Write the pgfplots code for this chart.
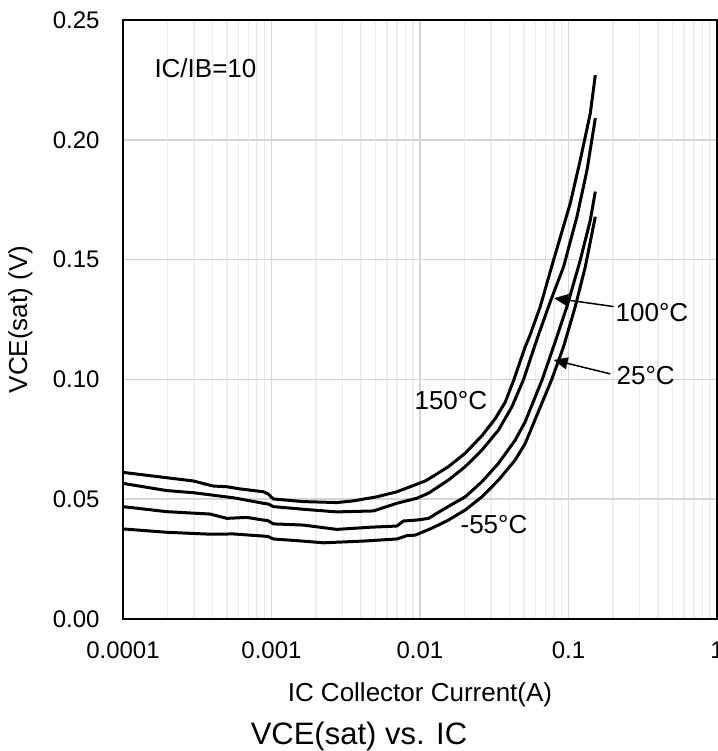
\documentclass[border=0pt]{standalone}
\usepackage{fontspec}
\setmainfont{Liberation Sans}
\usepackage{pgfplots}
\pgfplotsset{compat=1.18}
\usetikzlibrary{arrows.meta}
\begin{document}
\begin{tikzpicture}[x=1pt,y=1pt]
\begin{axis}[
  at={(0pt,0pt)}, anchor=south west,
  scale only axis, width=297pt, height=299.5pt,
  xmode=log, xmin=1e-4, xmax=1, ymin=0, ymax=0.25,
  xtick={1e-4,1e-3,1e-2,1e-1,1},
  xticklabels={0.0001,0.001,0.01,0.1,1},
  ytick={0,0.05,0.1,0.15,0.2,0.25},
  yticklabels={0.00,0.05,0.10,0.15,0.20,0.25},
  major tick length=0pt, minor tick length=0pt,
  xmajorgrids=true, xminorgrids=true, ymajorgrids=true,
  major grid style={draw=black!16, line width=0.75pt},
  minor grid style={draw=black!7, line width=0.75pt},
  axis line style={line width=0.8pt},
  tick label style={font=\fontsize{12}{14}\selectfont},
  xticklabel style={anchor=north, inner sep=0pt, yshift=-11.3pt},
  yticklabel style={anchor=east, inner sep=0pt, xshift=-11.5pt},
  xlabel={IC Collector Current(A)},
  xlabel style={at={(axis description cs:0.5,-0.1063)}, anchor=north, inner sep=0pt, font=\fontsize{13}{15}\selectfont},
  ylabel={VCE(sat) (V)},
  ylabel style={at={(axis description cs:-0.1936,0.5)}, anchor=north, inner sep=0pt, font=\fontsize{13}{15}\selectfont},
  every axis title shift=0pt,
  title={VCE(sat) vs. IC},
  title style={at={(axis description cs:0.3973,-0.1713)}, anchor=north, inner sep=0pt, font=\fontsize{15.5}{18}\selectfont},
  cycle list={black,line width=1.5pt,line join=round\\},
]
% 150 C
\addplot coordinates {
(1e-4,0.0612) (2.98e-4,0.0576) (4.04e-4,0.0555) (5.0e-4,0.0552) (6.14e-4,0.0543)
(8.82e-4,0.0531) (9.49e-4,0.0522) (1.03e-3,0.0501) (1.64e-3,0.0490) (2.754e-3,0.0486)
(3.565e-3,0.0493) (5.12e-3,0.0510) (6.99e-3,0.0531) (8.59e-3,0.0552) (0.01084,0.0576)
(0.01266,0.0601) (0.01556,0.0636) (0.02017,0.0692) (0.02613,0.0765) (0.03211,0.0836)
(0.0375,0.0905) (0.04267,0.0995) (0.05116,0.1137) (0.05528,0.1187) (0.06457,0.1304)
(0.07935,0.1498) (0.1028,0.1735) (0.1201,0.1916) (0.1403,0.2111) (0.1516,0.2270)
};
% 100 C
\addplot coordinates {
(1e-4,0.0566) (1.97e-4,0.0536) (2.98e-4,0.0527) (5.54e-4,0.0506) (8.82e-4,0.0483)
(9.5e-4,0.0480) (1.03e-3,0.0469) (1.64e-3,0.0458) (2.754e-3,0.0447) (4.86e-3,0.0451)
(6.99e-3,0.0483) (9.53e-3,0.0504) (0.01141,0.0525) (0.01556,0.0580) (0.02017,0.0636)
(0.02613,0.0705) (0.03381,0.0789) (0.04163,0.0886) (0.04983,0.1000) (0.06287,0.1187)
(0.0760,0.1330) (0.0927,0.1470) (0.1141,0.1680) (0.1333,0.1874) (0.1516,0.2090)
};
% 25 C
\addplot coordinates {
(1e-4,0.0469) (1.97e-4,0.0448) (3.86e-4,0.0438) (5.0e-4,0.0420) (6.82e-4,0.0424)
(8.82e-4,0.0413) (9.5e-4,0.0410) (1.03e-3,0.0397) (1.64e-3,0.0392) (2.754e-3,0.0374)
(4.62e-3,0.0383) (6.99e-3,0.0388) (7.74e-3,0.0409) (9.53e-3,0.0413) (0.01141,0.0420)
(0.01478,0.0462) (0.02017,0.0510) (0.02613,0.0573) (0.03381,0.0650) (0.04381,0.0747)
(0.05116,0.0824) (0.06659,0.1000) (0.07935,0.1137) (0.0977,0.1304) (0.1201,0.1498)
(0.1403,0.1665) (0.1516,0.1784)
};
% -55 C
\addplot coordinates {
(1e-4,0.0376) (1.97e-4,0.0362) (3.86e-4,0.0354) (5.54e-4,0.0355) (8.82e-4,0.0346)
(9.5e-4,0.0344) (1.03e-3,0.0334) (1.558e-3,0.0326) (2.24e-3,0.0318) (4.39e-3,0.0326)
(6.99e-3,0.0334) (8.16e-3,0.0348) (9.28e-3,0.0350) (0.01203,0.0379) (0.01556,0.0413)
(0.02017,0.0455) (0.02613,0.0510) (0.03381,0.0580) (0.04381,0.0664) (0.05116,0.0733)
(0.05819,0.0817) (0.07718,0.1000) (0.0927,0.1137) (0.1111,0.1304) (0.1298,0.1470)
(0.1516,0.1679)
};
\node[anchor=base west, inner sep=0pt, font=\fontsize{13}{15}\selectfont] at (axis cs:1.62e-4,0.2259) {IC/IB=10};
\node[anchor=base west, inner sep=0pt, font=\fontsize{13}{15}\selectfont] at (axis cs:9.14e-3,0.0875) {150°C};
\node[anchor=base west, inner sep=0pt, font=\fontsize{13}{15}\selectfont] at (axis cs:0.2067,0.1241) {100°C};
\node[anchor=base west, inner sep=0pt, font=\fontsize{13}{15}\selectfont] at (axis cs:0.2098,0.0977) {25°C};
\node[anchor=base west, inner sep=0pt, font=\fontsize{13}{15}\selectfont] at (axis cs:0.01866,0.0355) {-55°C};
\draw[line width=0.75pt, -{Triangle[length=7pt,width=6pt]}] (axis cs:0.2013,0.1304) -- (axis cs:0.0800,0.1339);
\draw[line width=0.75pt, -{Triangle[length=7pt,width=6pt]}] (axis cs:0.1913,0.1023) -- (axis cs:0.0795,0.1081);
\end{axis}
\pgfresetboundingbox
\path[use as bounding box] (-61.5pt,-66pt) rectangle (297.5pt,309.5pt);
\end{tikzpicture}
\end{document}
